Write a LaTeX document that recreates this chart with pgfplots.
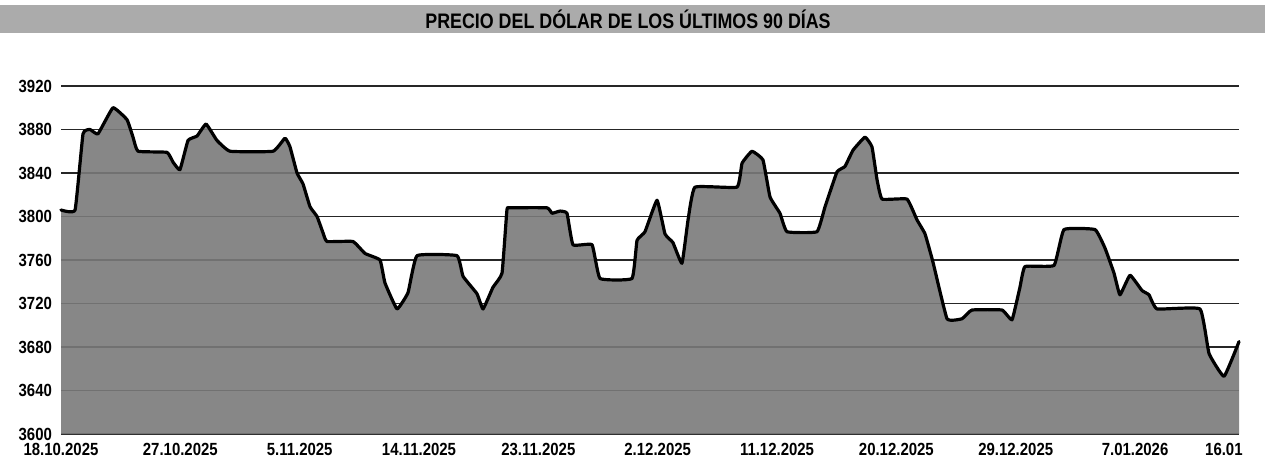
\documentclass[border=0pt]{standalone}
\usepackage{pgfplots}
\pgfplotsset{compat=1.18}
\usepackage{pgfplotstable}
\usepackage{fontspec}
\setmainfont[FakeStretch=0.85]{Liberation Sans}
\pgfplotstableread{
d v
0 3806
1.06 3806
1.66 3876
2.19 3880
2.79 3876
3.92 3900
4.98 3889
5.43 3873
5.81 3860
7.99 3859
8.45 3850
8.97 3843
9.58 3870
10.26 3874
10.94 3885
11.76 3870
12.75 3860
15.99 3860
16.89 3872
17.27 3864
17.80 3840
18.25 3830
18.78 3809
19.31 3800
19.76 3785
20.06 3777
22.02 3777
22.93 3766
24.06 3760
24.43 3739
25.34 3715
26.17 3730
26.85 3764
29.86 3764
30.32 3745
31.37 3729
31.83 3715
32.58 3735
33.26 3748
33.63 3806
33.86 3808
36.65 3808
37.03 3803
37.63 3805
38.16 3803
38.61 3774
40.05 3774
40.65 3743
43.06 3743
43.44 3778
44.04 3786
44.95 3815
45.55 3784
46.15 3776
46.83 3757
47.29 3797
47.81 3827
50.98 3827
51.36 3849
52.11 3860
52.94 3852
53.47 3818
54.22 3803
54.75 3786
57.01 3786
57.62 3809
58.52 3841
59.12 3846
59.73 3861
60.63 3873
61.16 3864
61.54 3834
61.92 3816
63.80 3816
64.55 3797
65.16 3784
65.76 3758
66.82 3706
67.95 3706
68.70 3714
70.97 3714
71.72 3705
72.32 3735
72.70 3754
74.89 3755
75.64 3788
77.98 3788
78.73 3771
79.41 3748
79.86 3728
80.62 3746
81.52 3732
82.05 3728
82.66 3715
85.90 3715
86.58 3674
87.71 3653
88.84 3685
}\dolar
\begin{document}
\begin{tikzpicture}
\useasboundingbox (-30.5pt,-14pt) rectangle (605.5pt,217pt);
\fill[black!33] (-30.5pt,200.5pt) rectangle (602pt,214.5pt);
\node[font=\fontsize{10.5}{12}\selectfont\bfseries, text=black] at (283.5pt,207.5pt) {PRECIO DEL DÓLAR DE LOS ÚLTIMOS 90 DÍAS};
\begin{axis}[
  at={(0,0)}, anchor=south west,
  scale only axis, width=589pt, height=174pt,
  xmin=0, xmax=88.84, ymin=3600, ymax=3920,
  axis line style={draw=none},
  major tick length=0,
  ytick={3600,3640,3680,3720,3760,3800,3840,3880,3920},
  yticklabels={3600,3640,3680,3720,3760,3800,3840,3880,3920},
  xtick={0,9,18,27,36,45,54,63,72,81,87.7},
  xticklabels={18.10.2025,27.10.2025,5.11.2025,14.11.2025,23.11.2025,2.12.2025,11.12.2025,20.12.2025,29.12.2025,7.01.2026,16.01},
  ticklabel style={font=\fontsize{8.8}{10}\selectfont\bfseries},
  xticklabel style={yshift=-1pt},
  yticklabel style={xshift=-1pt},
  ymajorgrids,
  grid style={black!85, line width=0.6pt},
  clip=false,
]
\addplot[fill=black!52, draw=none, fill opacity=0.9, smooth, tension=0.2] table[x=d,y=v] {\dolar} \closedcycle;
\addplot[black, line width=1.6pt, line join=round, line cap=round, smooth, tension=0.2] table[x=d,y=v] {\dolar};
\end{axis}
\end{tikzpicture}
\end{document}
